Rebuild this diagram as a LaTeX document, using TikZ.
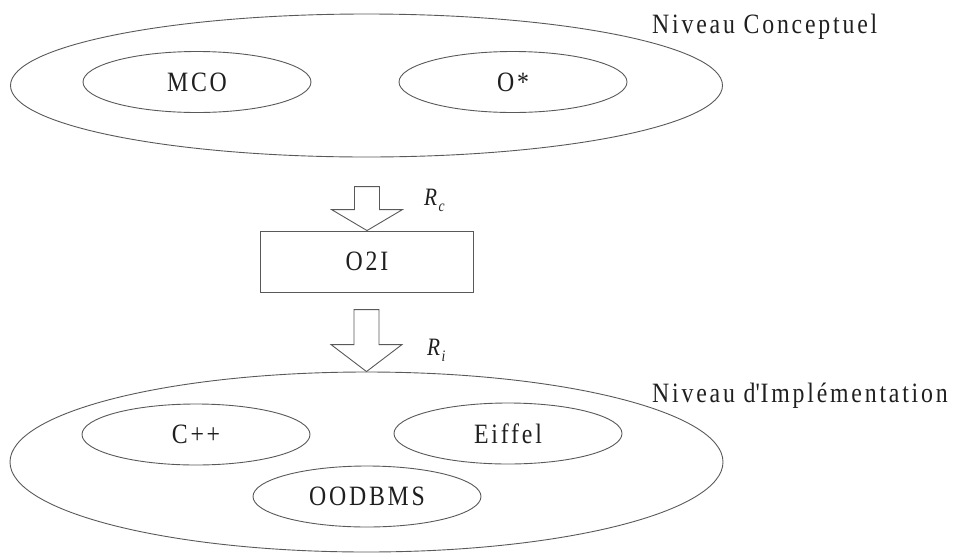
\documentclass[tikz,border=0pt]{standalone}
\usepackage{fontspec}
\setmainfont{Liberation Serif}[FakeStretch=0.85,LetterSpace=10]
\usetikzlibrary{shapes.geometric}
\newcommand{\rsub}[1]{\kern1.5pt\raisebox{-6pt}{\fontsize{16}{16}\selectfont\itshape #1}}
\begin{document}
\begin{tikzpicture}[x=1pt,y=-1pt,
  line/.style={draw=black!65,line width=0.9pt},
  oval/.style={line,ellipse,inner sep=0pt},
  lbl/.style={font=\fontsize{28}{32}\selectfont,text=black!88,inner sep=0pt},
  small/.style={oval,lbl,minimum width=228pt,minimum height=61pt},
  rlab/.style={font=\fontsize{25}{26}\selectfont\itshape,text=black!88,inner sep=0pt,anchor=base west}]
\useasboundingbox (0,0) rectangle (956,555);
% Conceptual level
\node[oval,minimum width=712pt,minimum height=143pt] (conc) at (366.5,85.5) {};
\node[small] (mco) at (197,82) {MCO};
\node[small] (ostar) at (513,82) {O*};
\node[lbl,anchor=base west] (nconc) at (652,33) {Niveau Conceptuel};
% O2I box
\node[line,rectangle,lbl,minimum width=213pt,minimum height=61pt] (o2i) at (367,261.5) {O2I};
% Implementation level
\node[oval,minimum width=713pt,minimum height=180pt] (impl) at (366.5,462) {};
\node[small] (cpp) at (196,434.5) {C++};
\node[small] (eiffel) at (508,433.5) {Eiffel};
\node[small] (oodbms) at (367,496.5) {OODBMS};
\node[lbl,anchor=base west] (nimpl) at (652,402) {Niveau d\textquotesingle Implémentation};
% block arrows
\draw[line] (o2i.north) -- ++(-35.5,-21) -- ++(23,0) -- ++(0,-23) -- ++(25,0) -- ++(0,23) -- ++(23,0) -- cycle;
\draw[line] (impl.north) -- ++(-35.5,-27) -- ++(23,0) -- ++(0,-35) -- ++(25,0) -- ++(0,35) -- ++(23,0) -- cycle;
\node[rlab] (rc) at (424,205) {R\rsub{c}};
\node[rlab] (ri) at (427,355) {R\rsub{i}};
\end{tikzpicture}
\end{document}
